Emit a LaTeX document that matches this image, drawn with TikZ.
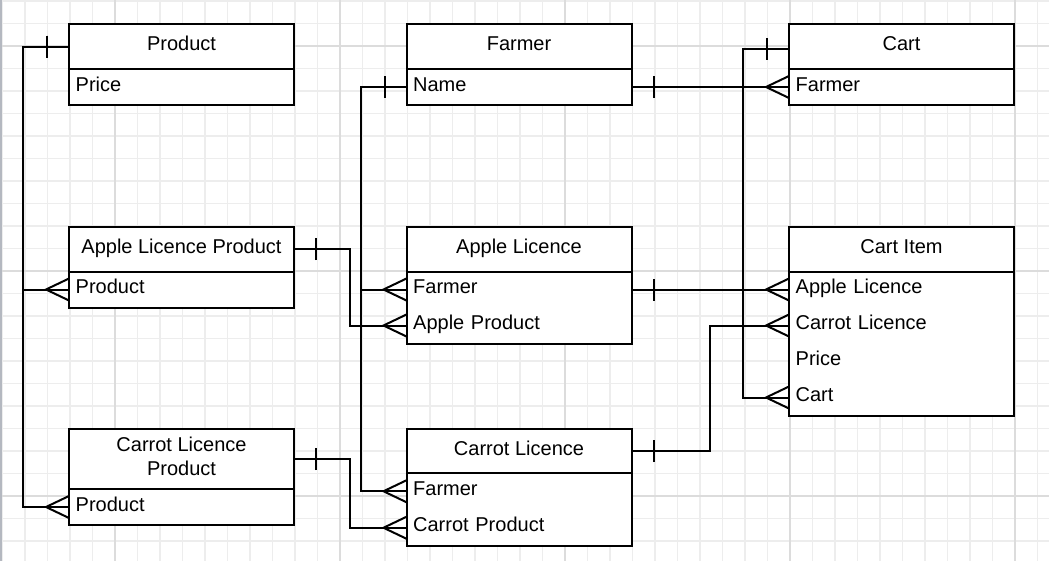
\documentclass[tikz,border=0pt]{standalone}
\usepackage{fontspec}
\setmainfont{Liberation Sans}
\usepackage{tikz}
\usetikzlibrary{positioning}
\usetikzlibrary{decorations.markings}
\definecolor{gridminor}{HTML}{EDEDED}
\definecolor{gridmajor}{HTML}{DCDCDC}
\definecolor{pageedge}{HTML}{B4B8C0}
\tikzset{
  head/.style={draw, fill=white, line width=1.5pt, outer sep=0pt, inner sep=0pt,
    text height=11pt, text depth=4.7pt,
    minimum width=168.75pt, minimum height=33.75pt, align=center, anchor=north west},
  row/.style={fill=white, outer sep=0pt, inner xsep=5pt, inner ysep=0pt,
    text height=11pt, text depth=4.7pt,
    minimum height=27pt, text width=158.75pt, align=left},
  link/.style={line width=1.5pt},
  one/.style={postaction={decorate, decoration={markings,
    mark=at position 16.5pt with {\draw[line width=1.5pt] (0,-8.25pt) -- (0,8.25pt);}}}},
  many/.style={postaction={decorate, decoration={markings,
    mark=at position 1 with {\draw[line width=1.5pt] (0,8.25pt) -- (-17.25pt,0) -- (0,-8.25pt);}}}}
}

\begin{document}
\begin{tikzpicture}[x=0.75pt, y=-0.75pt, font=\fontsize{15pt}{18pt}\selectfont]
\useasboundingbox (0,0) rectangle (1049,561);
\fill[white] (0,0) rectangle (1049,561);
%grid
\foreach \gx in {0,...,46}
  \draw[gridminor, line width=1pt] ({2.5+22.5*\gx},0) -- ++(0,561);
\foreach \gy in {0,...,24}
  \draw[gridminor, line width=1pt] (0,{1+22.5*\gy}) -- ++(1049,0);
\foreach \gx in {115,340,565,790,1015}
  \draw[gridmajor, line width=1.5pt] (\gx,0) -- ++(0,561);
\foreach \gy in {46,271,496}
  \draw[gridmajor, line width=1.5pt] (0,\gy) -- ++(1049,0);
\draw[pageedge, line width=1.5pt] (1,0) -- (1,561);

%entities
\node[head] (product) at (69,24) {Product};
\node[row, below=0pt of product] (product-price) {Price};
\draw[link] (product-price.north west) rectangle (product-price.south east);

\node[head] (farmer) at (406.5,24) {Farmer};
\node[row, below=0pt of farmer] (farmer-name) {Name};
\draw[link] (farmer-name.north west) rectangle (farmer-name.south east);

\node[head] (cart) at (789,24) {Cart};
\node[row, below=0pt of cart] (cart-farmer) {Farmer};
\draw[link] (cart-farmer.north west) rectangle (cart-farmer.south east);

\node[head] (alp) at (69,226.5) {Apple Licence Product};
\node[row, below=0pt of alp] (alp-product) {Product};
\draw[link] (alp-product.north west) rectangle (alp-product.south east);

\node[head] (al) at (406.5,226.5) {Apple Licence};
\node[row, below=0pt of al] (al-farmer) {Farmer};
\node[row, below=0pt of al-farmer] (al-product) {Apple Product};
\draw[link] (al-farmer.north west) rectangle (al-product.south east);

\node[head] (ci) at (789,226.5) {Cart Item};
\node[row, below=0pt of ci] (ci-apple) {Apple Licence};
\node[row, below=0pt of ci-apple] (ci-carrot) {Carrot Licence};
\node[row, below=0pt of ci-carrot] (ci-price) {Price};
\node[row, below=0pt of ci-price] (ci-cart) {Cart};
\draw[link] (ci-apple.north west) rectangle (ci-cart.south east);

\node[head, minimum height=45pt, text height=29pt, text depth=4.7pt] (clp) at (69,429) {Carrot Licence\\Product};
\node[row, below=0pt of clp] (clp-product) {Product};
\draw[link] (clp-product.north west) rectangle (clp-product.south east);

\node[head, minimum height=33pt] (cl) at (406.5,429) {Carrot Licence};
\node[row, minimum height=27.375pt, below=0pt of cl] (cl-farmer) {Farmer};
\node[row, minimum height=27.375pt, below=0pt of cl-farmer] (cl-product) {Carrot Product};
\draw[link] (cl-farmer.north west) rectangle (cl-product.south east);

%relations
\coordinate (busA) at (23,0);
\coordinate (busB) at (361,0);
\coordinate (busC) at (743,0);
\coordinate (busD) at (350,0);
\coordinate (busE) at (710,0);

\draw[link, one, many] (product.west) -- (product.west -| busA) |- (alp-product.west);
\draw[link, one, many] (product.west) -- (product.west -| busA) |- (clp-product.west);
\draw[link, one, many] (farmer-name.west) -- (farmer-name.west -| busB) |- (al-farmer.west);
\draw[link, one, many] (farmer-name.west) -- (farmer-name.west -| busB) |- (cl-farmer.west);
\draw[link, one, many] (farmer-name.east) -- (cart-farmer.west);
\draw[link, one, many] ([yshift=-2pt]cart.west) -- ([yshift=-2pt]cart.west -| busC) |- (ci-cart.west);
\draw[link, one, many] (alp.east) -- (alp.east -| busD) |- (al-product.west);
\draw[link, one, many] (al-farmer.east) -- (ci-apple.west);
\draw[link, one, many] (cl.east) -- (cl.east -| busE) |- (ci-carrot.west);
\draw[link, one, many] (clp.east) -- (clp.east -| busD) |- (cl-product.west);

\end{tikzpicture}
\end{document}
